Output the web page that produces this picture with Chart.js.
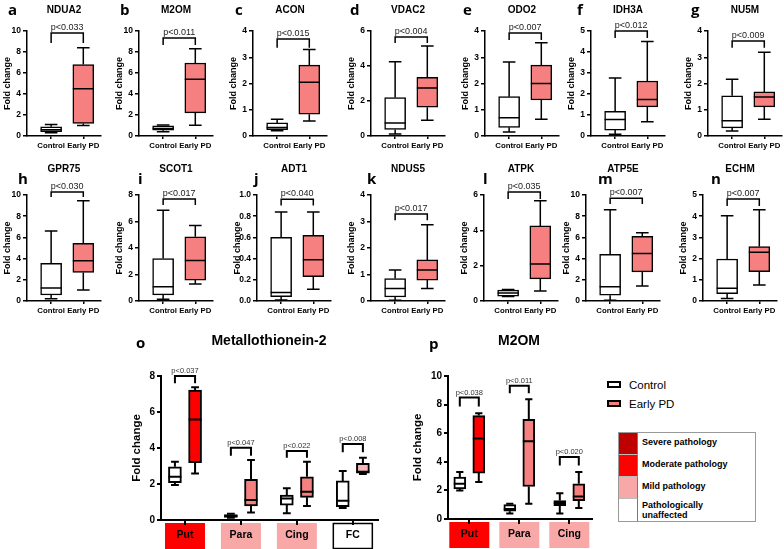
<!DOCTYPE html>
<html>
<head>
<meta charset="utf-8">
<title>Fold change box plots</title>
<script src="https://cdn.jsdelivr.net/npm/chart.js@4.4.1/dist/chart.umd.min.js"></script>
<style>
  html, body { margin: 0; padding: 0; background: #fff; }
  #fig { position: relative; width: 784px; height: 549px; overflow: hidden; font-family: 'Liberation Sans', Arial, sans-serif; color: #000; }
  #fig canvas { position: absolute; }
  .t { position: absolute; white-space: nowrap; font-weight: bold; }
  .letter { font-family: 'Open Sans', 'Liberation Sans', sans-serif; font-size: 15px; line-height: 16px; }
  .ttl { font-size: 10px; line-height: 12px; text-align: center; width: 74px; }
  .big { font-size: 14px; line-height: 16px; transform: translateX(-50%); }
  .leg { position: absolute; font-size: 11.5px; line-height: 14px; }
  .sw { position: absolute; width: 10px; height: 3px; border: 2px solid #000; }
  #path { position: absolute; left: 618px; top: 432px; width: 136px; border: 1px solid #999; background: #fff; }
  #path .row { height: 22px; position: relative; font-size: 9px; font-weight: bold; line-height: 10px; }
  #path .cell { position: absolute; left: 0; top: 0; width: 19px; height: 22px; border-right: 1px solid #777; box-sizing: border-box; }
  #path .txt { position: absolute; left: 23px; top: 4px; }
</style>
</head>
<body>
<div id="fig"></div>
<script>
// categories
var groups = ['Control', 'Early PD'];
var regionsMT = ['Put', 'Para', 'Cing', 'FC'];
var regionsM2OM = ['Put', 'Para', 'Cing'];

// box stats per group: [min, q1, median, q3, max]
var ndua2Control = [0.3, 0.42, 0.6, 0.88, 1.1];
var ndua2EarlyPD = [1.0, 1.2, 4.5, 6.8, 8.4];
var m2omControl = [0.4, 0.55, 0.72, 0.98, 1.05];
var m2omEarlyPD = [1.02, 2.2, 5.4, 6.95, 8.3];
var aconControl = [0.2, 0.24, 0.32, 0.5, 0.64];
var aconEarlyPD = [0.57, 0.83, 2.05, 2.7, 3.3];
var vdac2Control = [0.12, 0.37, 0.75, 2.2, 4.25];
var vdac2EarlyPD = [0.9, 1.65, 2.75, 3.35, 5.15];
var odo2Control = [0.15, 0.33, 0.7, 1.5, 2.82];
var odo2EarlyPD = [0.64, 1.37, 2.0, 2.7, 3.55];
var idh3aControl = [0.08, 0.28, 0.79, 1.18, 2.76];
var idh3aEarlyPD = [0.68, 1.39, 1.74, 2.62, 4.5];
var nu5mControl = [0.19, 0.31, 0.58, 1.53, 2.16];
var nu5mEarlyPD = [0.64, 1.11, 1.49, 1.68, 3.19];
var gpr75Control = [0.22, 0.57, 1.23, 3.56, 6.6];
var gpr75EarlyPD = [1.04, 2.7, 3.8, 5.44, 9.46];
var scot1Control = [0.13, 0.46, 1.07, 3.2, 6.85];
var scot1EarlyPD = [1.28, 1.58, 3.05, 4.84, 5.7];
var adt1Control = [0.01, 0.04, 0.08, 0.6, 0.84];
var adt1EarlyPD = [0.11, 0.23, 0.39, 0.62, 0.84];
var ndus5Control = [0.03, 0.15, 0.47, 0.85, 1.17];
var ndus5EarlyPD = [0.47, 0.79, 1.17, 1.55, 2.88];
var atpkControl = [0.25, 0.27, 0.45, 0.62, 0.65];
var atpkEarlyPD = [0.57, 1.25, 2.1, 4.25, 5.67];
var atp5eControl = [0.08, 0.55, 1.34, 4.4, 8.6];
var atp5eEarlyPD = [1.42, 2.75, 4.48, 6.1, 6.45];
var echmControl = [0.12, 0.35, 0.6, 1.98, 4.02];
var echmEarlyPD = [0.75, 1.38, 2.3, 2.57, 4.3];

// regional panels (o, p), one entry per region
var mtControl = [[1.94, 2.07, 2.4, 2.96, 3.24], [0.12, 0.15, 0.22, 0.3, 0.35], [0.37, 0.83, 1.2, 1.39, 1.76], [0.66, 0.74, 1.07, 2.17, 2.72]];
var mtEarlyPD = [[2.59, 3.18, 5.59, 7.22, 7.37], [0.41, 0.78, 1.11, 2.26, 3.33], [0.78, 1.26, 1.57, 2.4, 3.24], [2.55, 2.6, 2.68, 3.15, 3.46]];
var m2omRegControl = [[1.99, 2.11, 2.46, 2.93, 3.28], [0.39, 0.55, 0.7, 1.0, 1.06], [0.39, 0.94, 1.12, 1.29, 1.8]];
var m2omRegEarlyPD = [[2.58, 3.21, 5.63, 7.23, 7.39], [1.06, 2.27, 5.44, 6.97, 8.38], [0.77, 1.29, 1.57, 2.46, 3.28]];

var panelTitles = ['NDUA2', 'M2OM', 'ACON', 'VDAC2', 'ODO2', 'IDH3A', 'NU5M', 'GPR75', 'SCOT1', 'ADT1', 'NDUS5', 'ATPK', 'ATP5E', 'ECHM'];
var panelLetters = ['a', 'b', 'c', 'd', 'e', 'f', 'g', 'h', 'i', 'j', 'k', 'l', 'm', 'n'];
var controlStats = [ndua2Control, m2omControl, aconControl, vdac2Control, odo2Control, idh3aControl, nu5mControl,
  gpr75Control, scot1Control, adt1Control, ndus5Control, atpkControl, atp5eControl, echmControl];
var earlyPDStats = [ndua2EarlyPD, m2omEarlyPD, aconEarlyPD, vdac2EarlyPD, odo2EarlyPD, idh3aEarlyPD, nu5mEarlyPD,
  gpr75EarlyPD, scot1EarlyPD, adt1EarlyPD, ndus5EarlyPD, atpkEarlyPD, atp5eEarlyPD, echmEarlyPD];
var pValues = ['p<0.033', 'p<0.011', 'p<0.015', 'p<0.004', 'p<0.007', 'p<0.012', 'p<0.009',
  'p<0.030', 'p<0.017', 'p<0.040', 'p<0.017', 'p<0.035', 'p<0.007', 'p<0.007'];
var yMax = [10, 10, 4, 6, 4, 5, 4, 10, 8, 1, 4, 6, 10, 5];
var yStep = [2, 2, 1, 2, 1, 1, 1, 2, 2, 0.2, 1, 2, 2, 1];
// bracket levels (fold change units)
var bracketTop = [9.8, 9.33, 3.7, 5.66, 3.92, 5.0, 3.62, 10.28, 7.7, 0.96, 3.28, 6.17, 9.7, 4.81];
var bracketLeg = [8.86, 8.67, 3.36, 5.32, 3.66, 4.67, 3.36, 9.81, 7.24, 0.9, 3.05, 5.77, 9.15, 4.48];

var pValuesMT = ['p<0.037', 'p<0.047', 'p<0.022', 'p<0.008'];
var bracketTopMT = [8.0, 4.02, 3.83, 4.22];
var bracketLegMT = [7.6, 3.57, 3.46, 3.76];
var pValuesM2OM = ['p<0.038', 'p<0.011', 'p<0.020'];
var bracketTopM2OM = [8.5, 9.32, 4.34];
var bracketLegM2OM = [7.86, 8.8, 3.75];

var pathologyLabels = ['Severe pathology', 'Moderate pathology', 'Mild pathology', 'Pathologically<br>unaffected'];

// colours
var pink = '#f67f7f';
var pathologyColors = ['#c00000', '#ff0000', '#f9a8a8', '#ffffff'];
var mtBoxColors = ['#ff0000', pink, pink, '#f6b6b6'];
var mtLabelColors = ['#ff0000', '#f9a8a8', '#f9a8a8', '#ffffff'];
var m2omBoxColors = ['#ff0000', pink, pink];
var m2omLabelColors = ['#ff0000', '#f9a8a8', '#f9a8a8'];

// layout
var rowAxisX = [[27, 139, 253, 371, 485, 591, 708], [27, 139, 257, 371, 484, 586, 703]];
var rowAxisTop = [31, 195];
var rowAxisBottom = [136, 301];
var letterX = [8, 120, 235, 350, 463, 577, 691, 18, 138, 254, 367, 483, 598, 711];

Chart.defaults.font.family = "'Liberation Sans', Arial, sans-serif";
Chart.defaults.color = '#000';

var fig = document.getElementById('fig');

function addText(html, cls, x, y) {
  var d = document.createElement('div');
  d.className = 't ' + cls;
  d.innerHTML = html;
  d.style.left = x + 'px';
  d.style.top = y + 'px';
  fig.appendChild(d);
  return d;
}

// whiskers, medians, and the significance brackets
function boxPlugin(stats, brackets, opt) {
  return {
    id: 'boxWhiskers',
    beforeDraw: function (chart) {
      if (!opt.labelColors) return;
      var ctx = chart.ctx, x = chart.scales.x, area = chart.chartArea;
      ctx.save();
      opt.tickPos.forEach(function (v, i) {
        var cx = x.getPixelForValue(v);
        ctx.fillStyle = opt.labelColors[i];
        ctx.fillRect(cx - 20, area.bottom + 3, 40, 26);
        if (opt.labelColors[i] === '#ffffff') {
          ctx.strokeStyle = '#000';
          ctx.lineWidth = 1.5;
          ctx.strokeRect(cx - 19.5, area.bottom + 3.5, 39, 25);
        }
      });
      ctx.restore();
    },
    afterDatasetsDraw: function (chart) {
      var ctx = chart.ctx, y = chart.scales.y;
      var bars = chart.getDatasetMeta(0).data;
      var py = function (v) { return y.getPixelForValue(v); };
      ctx.save();
      ctx.strokeStyle = '#000';
      ctx.lineWidth = opt.lw;
      bars.forEach(function (bar, i) {
        var s = stats[i];
        var cx = bar.x, half = bar.width / 2, cap = bar.width * opt.cap / 2;
        ctx.beginPath();
        ctx.moveTo(cx, py(s[3])); ctx.lineTo(cx, py(s[4]));
        ctx.moveTo(cx - cap, py(s[4])); ctx.lineTo(cx + cap, py(s[4]));
        ctx.moveTo(cx, py(s[1])); ctx.lineTo(cx, py(s[0]));
        ctx.moveTo(cx - cap, py(s[0])); ctx.lineTo(cx + cap, py(s[0]));
        ctx.moveTo(cx - half, py(s[2])); ctx.lineTo(cx + half, py(s[2]));
        ctx.stroke();
      });
      brackets.forEach(function (b) {
        var x1 = bars[b.from].x, x2 = bars[b.to].x;
        var top = py(b.top), leg = py(b.leg);
        ctx.beginPath();
        ctx.moveTo(x1, leg); ctx.lineTo(x1, top); ctx.lineTo(x2, top); ctx.lineTo(x2, leg);
        ctx.stroke();
        ctx.fillStyle = opt.pColor;
        ctx.font = opt.pFont;
        ctx.textAlign = 'center';
        ctx.textBaseline = 'bottom';
        ctx.fillText(b.text, (x1 + x2) / 2, top - 1);
      });
      ctx.restore();
    }
  };
}

function boxChart(opt) {
  var canvas = document.createElement('canvas');
  canvas.width = opt.axisW + opt.plotW + opt.padRight;
  canvas.height = opt.padTop + opt.plotH + opt.axisH;
  canvas.style.left = (opt.left - opt.axisW) + 'px';
  canvas.style.top = (opt.top - opt.padTop) + 'px';
  fig.appendChild(canvas);

  var points = opt.stats.map(function (s, i) { return { x: opt.boxPos[i], y: [s[1], s[3]] }; });

  return new Chart(canvas, {
    type: 'bar',
    data: {
      datasets: [{
        data: points,
        backgroundColor: opt.colors,
        borderColor: '#000',
        borderWidth: opt.lw,
        borderSkipped: false,
        barThickness: opt.barW
      }]
    },
    options: {
      responsive: false,
      animation: false,
      layout: { padding: { top: opt.padTop, right: opt.padRight, left: 0, bottom: 0 } },
      plugins: { legend: { display: false }, tooltip: { enabled: false } },
      scales: {
        x: {
          type: 'linear',
          min: opt.xMin,
          max: opt.xMax,
          offset: false,
          afterBuildTicks: function (s) { s.ticks = opt.tickPos.map(function (v) { return { value: v }; }); },
          afterFit: function (s) { s.height = opt.axisH; },
          ticks: {
            autoSkip: false, maxRotation: 0, padding: opt.xPad, font: opt.xFont, color: '#000',
            callback: function (v, i) { return opt.tickLabels[i]; }
          },
          grid: { offset: false, drawOnChartArea: false, color: '#000', lineWidth: opt.lw, tickLength: opt.xTick },
          border: { color: '#000', width: opt.lw }
        },
        y: {
          min: 0,
          max: opt.yMax,
          afterFit: function (s) { s.width = opt.axisW; },
          ticks: { stepSize: opt.yStep, padding: 2, font: opt.yFont, color: '#000', callback: opt.yFmt },
          grid: { drawOnChartArea: false, color: '#000', lineWidth: opt.lw, tickLength: 4 },
          border: { color: '#000', width: opt.lw },
          title: { display: true, text: 'Fold change', color: '#000', font: opt.titleFont, padding: { top: 0, bottom: 0 } }
        }
      }
    },
    plugins: [boxPlugin(opt.stats, opt.brackets, opt)]
  });
}

// panels a-n
panelTitles.forEach(function (title, i) {
  var row = i < 7 ? 0 : 1;
  var ax = rowAxisX[row][i % 7];
  var top = rowAxisTop[row];
  boxChart({
    left: ax, top: top, axisW: 25, plotW: 74, padRight: 6, padTop: 26,
    plotH: rowAxisBottom[row] - top, axisH: 20,
    xMin: 0, xMax: 2.3, boxPos: [0.75, 1.75], tickPos: [0.75, 1.75], tickLabels: groups,
    stats: [controlStats[i], earlyPDStats[i]], colors: ['#ffffff', pink],
    yMax: yMax[i], yStep: yStep[i],
    yFmt: yStep[i] < 1 ? function (v) { return v.toFixed(1); } : function (v) { return v; },
    brackets: [{ from: 0, to: 1, top: bracketTop[i], leg: bracketLeg[i], text: pValues[i] }],
    lw: 1.5, cap: 0.6, barW: 21, xPad: 2, xTick: 3,
    xFont: { size: 7.8, weight: 'bold' }, yFont: { size: 8.5, weight: 'bold' },
    titleFont: { size: 9, weight: 'bold' },
    pFont: "9px 'Liberation Sans', Arial, sans-serif", pColor: '#222'
  });
  addText(title, 'ttl', ax, row === 0 ? 4 : 163);
  addText(panelLetters[i], 'letter', letterX[i], row === 0 ? 1 : 170);
});

// panel o: Metallothionein-2 by region
function regionBoxes(ctrl, pd, offset) {
  var pos = [], stats = [];
  ctrl.forEach(function (s, i) {
    pos.push(i + 1 - offset, i + 1 + offset);
    stats.push(s, pd[i]);
  });
  return { pos: pos, stats: stats };
}

var mt = regionBoxes(mtControl, mtEarlyPD, 0.18);
boxChart({
  left: 161, top: 376, axisW: 31, plotW: 217, padRight: 4, padTop: 30, plotH: 144, axisH: 29,
  xMin: 0.571, xMax: 4.45, boxPos: mt.pos, tickPos: [1, 2, 3, 4], tickLabels: regionsMT,
  stats: mt.stats,
  colors: mtBoxColors.reduce(function (a, c) { return a.concat(['#ffffff', c]); }, []),
  labelColors: mtLabelColors,
  yMax: 8, yStep: 2, yFmt: function (v) { return v; },
  brackets: pValuesMT.map(function (p, i) { return { from: 2 * i, to: 2 * i + 1, top: bracketTopMT[i], leg: bracketLegMT[i], text: p }; }),
  lw: 2, cap: 0.6, barW: 13, xPad: 4, xTick: 5,
  xFont: { size: 10.5, weight: 'bold' }, yFont: { size: 10, weight: 'bold' },
  titleFont: { size: 11.5, weight: 'bold' },
  pFont: "7.5px 'Liberation Sans', Arial, sans-serif", pColor: '#333'
});

// panel p: M2OM by region
var m2 = regionBoxes(m2omRegControl, m2omRegEarlyPD, 0.19);
boxChart({
  left: 448, top: 376, axisW: 37, plotW: 144, padRight: 4, padTop: 30, plotH: 143, axisH: 30,
  xMin: 0.574, xMax: 3.454, boxPos: m2.pos, tickPos: [1, 2, 3], tickLabels: regionsM2OM,
  stats: m2.stats,
  colors: m2omBoxColors.reduce(function (a, c) { return a.concat(['#ffffff', c]); }, []),
  labelColors: m2omLabelColors,
  yMax: 10, yStep: 2, yFmt: function (v) { return v; },
  brackets: pValuesM2OM.map(function (p, i) { return { from: 2 * i, to: 2 * i + 1, top: bracketTopM2OM[i], leg: bracketLegM2OM[i], text: p }; }),
  lw: 2, cap: 0.6, barW: 12, xPad: 4, xTick: 5,
  xFont: { size: 10.5, weight: 'bold' }, yFont: { size: 10, weight: 'bold' },
  titleFont: { size: 11.5, weight: 'bold' },
  pFont: "7.5px 'Liberation Sans', Arial, sans-serif", pColor: '#333'
});

var t1 = addText('Metallothionein-2', 'big', 269, 332);
var t2 = addText('M2OM', 'big', 519, 332);
addText('o', 'letter', 136, 334);
addText('p', 'letter', 429, 335);

// Control / Early PD key
[['Control', '#ffffff', 381], ['Early PD', pink, 400]].forEach(function (k) {
  var sw = document.createElement('div');
  sw.className = 'sw';
  sw.style.left = '607px';
  sw.style.top = k[2] + 'px';
  sw.style.background = k[1];
  fig.appendChild(sw);
  var lab = document.createElement('div');
  lab.className = 'leg';
  lab.textContent = k[0];
  lab.style.left = '629px';
  lab.style.top = (k[2] - 3) + 'px';
  fig.appendChild(lab);
});

// pathology key
var path = document.createElement('div');
path.id = 'path';
pathologyLabels.forEach(function (label, i) {
  var row = document.createElement('div');
  row.className = 'row';
  var cell = document.createElement('div');
  cell.className = 'cell';
  cell.style.background = pathologyColors[i];
  if (i < pathologyLabels.length - 1) cell.style.borderBottom = '1px solid #bbb';
  var txt = document.createElement('div');
  txt.className = 'txt';
  txt.innerHTML = label;
  if (i === pathologyLabels.length - 1) txt.style.top = '1px';
  row.appendChild(cell);
  row.appendChild(txt);
  path.appendChild(row);
});
fig.appendChild(path);
</script>
</body>
</html>
